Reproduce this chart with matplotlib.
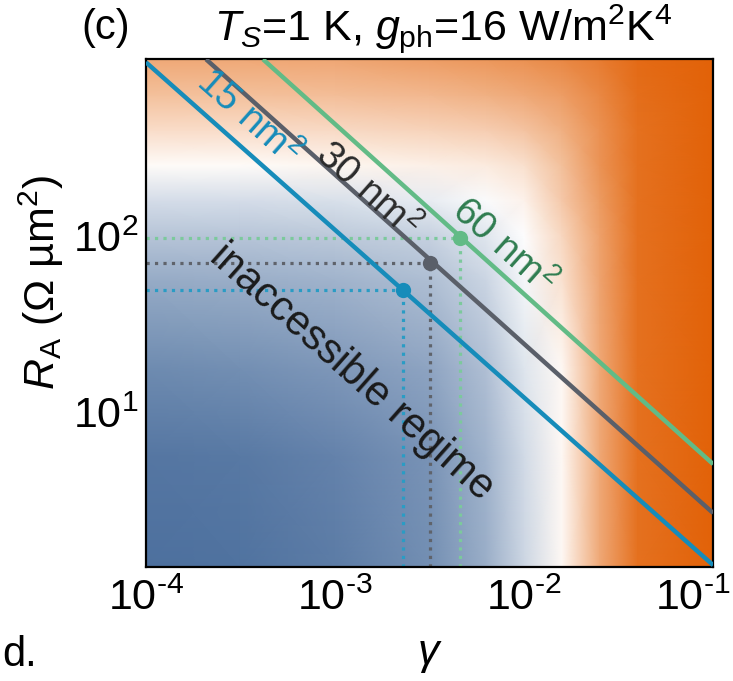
import numpy as np
import matplotlib
matplotlib.use("Agg")
import matplotlib.pyplot as plt
import matplotlib.transforms as mtransforms
from matplotlib.colors import LinearSegmentedColormap

plt.rcParams['font.family'] = ['Liberation Sans', 'DejaVu Sans']
plt.rcParams['mathtext.fontset'] = 'custom'
plt.rcParams['mathtext.rm'] = 'Liberation Sans'
plt.rcParams['mathtext.it'] = 'Liberation Sans:italic'
plt.rcParams['mathtext.bf'] = 'Liberation Sans:bold'

# axis ranges
gamma_lim = [1e-4, 1e-1]
ra_lim = [10**0.125, 1e3]

# lines R_A vs gamma (end points, log-log straight)
areas = ['15 nm$^2$', '30 nm$^2$', '60 nm$^2$']
line_gamma = [[1e-4, 1e-1], [2.08e-4, 1e-1], [4.16e-4, 1e-1]]
line_ra = [[962, 1.37], [1000, 2.70], [1000, 5.11]]

# operating points
pt_gamma = [2.29e-3, 3.18e-3, 4.58e-3]
pt_ra = [49.3, 70.0, 97.0]

line_colors = ['#168cba', '#5a5f69', '#62bb86']
dot_colors = ['#2a9cc4', '#5f636b', '#7cc99c']
label_colors = ['#168cba', '#2b2b2b', '#2f7d50']

xticks = [1e-4, 1e-3, 1e-2, 1e-1]
xtick_labels = [r'10$^{\text{-}4}$', r'10$^{\text{-}3}$',
                r'10$^{\text{-}2}$', r'10$^{\text{-}1}$']
yticks = [10, 100]
ytick_labels = ['10$^1$', '10$^2$']

# background map (-1 blue ... 0 white ... 1 orange)
bg_log_gamma = [-4, -3.5, -3, -2.5, -2.2, -2.0, -1.8, -1.6, -1.4, -1.0]
bg_log_ra = [0.125, 0.75, 1.25, 1.75, 2.0, 2.2, 2.4, 2.6, 2.8, 3.0]
bg_vals = [
    [-0.92, -0.90, -0.84, -0.72, -0.52, -0.26, 0.04, 0.55, 0.90, 1.0],
    [-0.88, -0.86, -0.80, -0.69, -0.49, -0.24, 0.04, 0.55, 0.90, 1.0],
    [-0.75, -0.72, -0.67, -0.58, -0.41, -0.17, 0.04, 0.55, 0.90, 1.0],
    [-0.54, -0.52, -0.49, -0.42, -0.27, -0.06, 0.18, 0.58, 0.90, 1.0],
    [-0.38, -0.37, -0.35, -0.29, -0.16, -0.01, 0.25, 0.60, 0.90, 1.0],
    [-0.22, -0.22, -0.20, -0.12, -0.03, 0.08, 0.35, 0.64, 0.90, 1.0],
    [0.03, 0.03, 0.06, 0.10, 0.13, 0.20, 0.40, 0.68, 0.90, 1.0],
    [0.22, 0.22, 0.24, 0.28, 0.32, 0.38, 0.50, 0.70, 0.90, 1.0],
    [0.40, 0.40, 0.42, 0.46, 0.50, 0.55, 0.62, 0.75, 0.92, 1.0],
    [0.55, 0.55, 0.57, 0.62, 0.66, 0.70, 0.75, 0.83, 0.94, 1.0],
]

cmap = LinearSegmentedColormap.from_list('bwo', ['#3e6496', '#ffffff', '#e26208'])

fig = plt.figure(figsize=(7.33, 6.81), dpi=100)
ax = fig.add_axes([0.199, 0.167, 0.774, 0.746])

G, R = np.meshgrid(10.0**np.array(bg_log_gamma), 10.0**np.array(bg_log_ra))
ax.pcolormesh(G, R, np.array(bg_vals), cmap=cmap, vmin=-1, vmax=1,
              shading='gouraud', rasterized=True, zorder=0)

ax.set_xscale('log')
ax.set_yscale('log')
ax.set_xlim(gamma_lim)
ax.set_ylim(ra_lim)

for i in range(3):
    ax.plot([gamma_lim[0], pt_gamma[i]], [pt_ra[i], pt_ra[i]], ':',
            color=dot_colors[i], lw=2.3, zorder=2)
    ax.plot([pt_gamma[i], pt_gamma[i]], [ra_lim[0], pt_ra[i]], ':',
            color=dot_colors[i], lw=2.3, zorder=2)
    ax.plot(line_gamma[i], line_ra[i], '-', color=line_colors[i], lw=3.2,
            solid_capstyle='butt', zorder=3)
    ax.plot(pt_gamma[i], pt_ra[i], 'o', color=line_colors[i], ms=11,
            mec='none', zorder=4)

rot = -41.6
ax.text(10**-3.46, 10**2.67, areas[0], color=label_colors[0], fontsize=28,
        rotation=rot, ha='center', va='center', rotation_mode='anchor')
ax.text(10**-2.83, 10**2.26, areas[1], color=label_colors[1], fontsize=28,
        rotation=rot, ha='center', va='center', rotation_mode='anchor')
ax.text(10**-2.11, 10**1.94, areas[2], color=label_colors[2], fontsize=28,
        rotation=rot, ha='center', va='center', rotation_mode='anchor')
ax.text(10**-2.91, 10**1.229, 'inaccessible regime', color='#1a1a1a',
        fontsize=30, rotation=rot, ha='center', va='center',
        rotation_mode='anchor')

ax.set_xticks(xticks)
ax.set_xticklabels(xtick_labels)
ax.set_yticks(yticks)
ax.set_yticklabels(ytick_labels)
ax.minorticks_off()
ax.tick_params(which='both', length=0, labelsize=31)
ax.tick_params(axis='x', pad=8)
ax.tick_params(axis='y', pad=5)

# last x label sits at the figure edge; nudge it left so it stays whole
last = ax.get_xticklabels()[-1]
last.set_transform(last.get_transform() +
                   mtransforms.ScaledTranslation(-20 / 100, 0, fig.dpi_scale_trans))

for s in ax.spines.values():
    s.set_linewidth(1.6)
    s.set_color('black')

ax.set_xlabel(r'$\gamma$', fontsize=31, labelpad=12)
ax.set_ylabel(r'$R_\mathrm{A}$ (Ω µm$^2$)', fontsize=31)
ax.yaxis.set_label_coords(-0.14, 0.56)

fig.text(106 / 733, 1 - 28 / 681, '(c)', fontsize=30, ha='center', va='center')
fig.text(443 / 733, 1 - 28 / 681,
         r'$T_S$=1 K, $g_\mathrm{ph}$=16 W/m$^2$K$^4$',
         fontsize=31, ha='center', va='center')
fig.text(2 / 733, 1 - 655 / 681, 'd.', fontsize=30, ha='left', va='center')

fig.savefig('out.png', dpi=100)
